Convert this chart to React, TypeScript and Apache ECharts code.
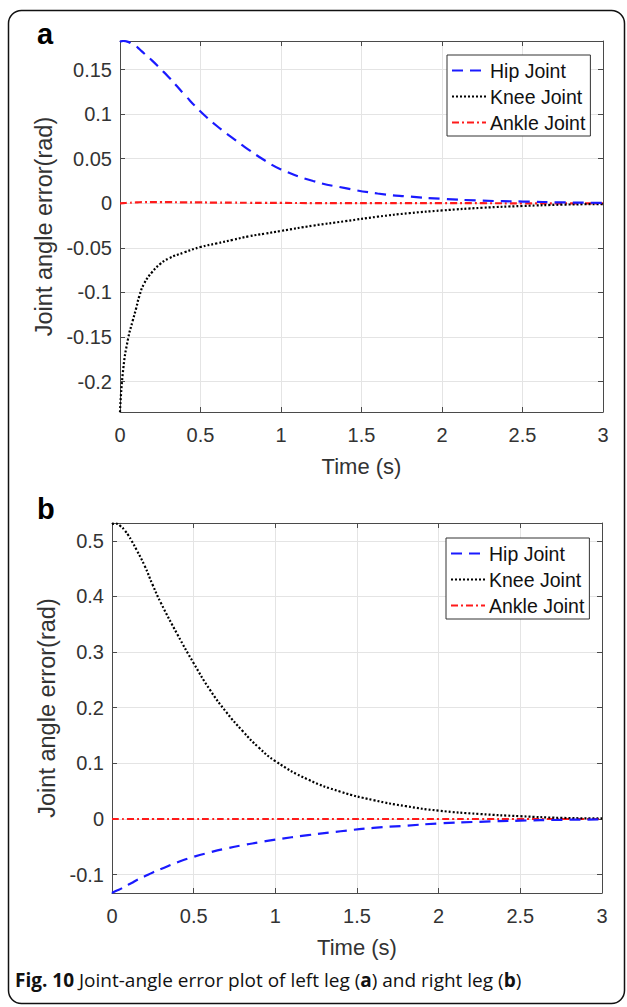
import React, { useEffect, useRef } from "react";
import * as echarts from "echarts";

// ---- data ----
const time = [0, 0.02, 0.05, 0.08, 0.1, 0.12, 0.15, 0.2, 0.25, 0.3, 0.4, 0.5, 0.6, 0.7, 0.8, 0.9, 1.0, 1.2, 1.4, 1.6, 1.8, 2.0, 2.25, 2.5, 2.75, 3.0];

const hipA = [0.181, 0.182, 0.181, 0.178, 0.176, 0.173, 0.168, 0.16, 0.151, 0.142, 0.122, 0.103, 0.087, 0.073, 0.06, 0.048, 0.038, 0.025, 0.017, 0.011, 0.0075, 0.005, 0.003, 0.002, 0.001, 0.0005];
const kneeA = [-0.234, -0.186, -0.152, -0.131, -0.118, -0.104, -0.09, -0.077, -0.068, -0.062, -0.055, -0.049, -0.045, -0.041, -0.037, -0.034, -0.031, -0.025, -0.02, -0.015, -0.011, -0.008, -0.005, -0.003, -0.0015, -0.0008];
const ankleA = [0, 0.0002, 0.0005, 0.0008, 0.001, 0.0012, 0.0013, 0.0014, 0.0014, 0.0013, 0.0011, 0.001, 0.0008, 0.0007, 0.0006, 0.0005, 0.0004, 0.0003, 0.0002, 0.0002, 0.0001, 0.0001, 0.0001, 0, 0, 0];

const hipB = [-0.133, -0.13, -0.126, -0.121, -0.118, -0.115, -0.11, -0.103, -0.096, -0.09, -0.078, -0.068, -0.06, -0.053, -0.047, -0.042, -0.037, -0.029, -0.022, -0.016, -0.012, -0.008, -0.005, -0.003, -0.0015, -0.0008];
const kneeB = [0.53, 0.531, 0.527, 0.518, 0.51, 0.5, 0.484, 0.455, 0.42, 0.388, 0.332, 0.28, 0.232, 0.192, 0.158, 0.128, 0.104, 0.071, 0.049, 0.034, 0.023, 0.015, 0.009, 0.005, 0.002, 0.001];
const ankleB = [0, 0, 0, 0, 0, 0, 0, 0, 0, 0, 0, 0, 0, 0, 0, 0, 0, 0, 0, 0, 0, 0, 0, 0, 0, 0];

const seriesNames = ["Hip Joint", "Knee Joint", "Ankle Joint"];
const yTicksA = [-0.2, -0.15, -0.1, -0.05, 0, 0.05, 0.1, 0.15];
const yTicksB = [-0.1, 0, 0.1, 0.2, 0.3, 0.4, 0.5];
const yRangeA = [-0.234, 0.182];
const yRangeB = [-0.133, 0.532];
const xRange = [0, 3];

const xTitle = "Time (s)";
const yTitle = "Joint angle error(rad)";
const caption = "{b|Fig. 10} Joint-angle error plot of left leg ({b|a}) and right leg ({b|b})";

const FONT = "Liberation Sans";
const TXT = "#333333";
const AXC = "#4a4a4a";
const GRIDC = "#e4e4e4";

const zip = (t: number[], v: number[]) => t.map((x, i) => [x, v[i]]);

function xAxes(grid: number) {
  return [
    {
      type: "value",
      gridIndex: grid,
      position: "bottom",
      min: xRange[0],
      max: xRange[1],
      interval: 0.5,
      name: xTitle,
      nameLocation: "middle",
      nameGap: 43,
      nameTextStyle: { fontFamily: FONT, fontSize: 22, color: TXT },
      axisLine: { show: true, onZero: false, lineStyle: { color: AXC, width: 1 } },
      axisTick: { show: true, inside: true, length: 5, lineStyle: { color: AXC } },
      axisLabel: { fontFamily: FONT, fontSize: 20, color: TXT, margin: 13 },
      splitLine: { show: true, lineStyle: { color: GRIDC, width: 1 } },
    },
    {
      type: "value",
      gridIndex: grid,
      position: "top",
      min: xRange[0],
      max: xRange[1],
      interval: 0.5,
      axisLine: { show: true, onZero: false, lineStyle: { color: AXC, width: 1 } },
      axisTick: { show: true, inside: true, length: 5, lineStyle: { color: AXC } },
      axisLabel: { show: false },
      splitLine: { show: false },
    },
  ];
}

function yAxes(grid: number, range: number[], ticks: number[], gap: number) {
  const fmt = (v: number) => String(parseFloat(Number(v).toFixed(4)));
  return [
    {
      type: "value",
      gridIndex: grid,
      position: "left",
      min: range[0],
      max: range[1],
      name: yTitle,
      nameLocation: "middle",
      nameRotate: 90,
      nameGap: gap,
      nameTextStyle: { fontFamily: FONT, fontSize: 23.5, color: TXT },
      axisLine: { show: true, onZero: false, lineStyle: { color: AXC, width: 1 } },
      axisTick: { show: true, inside: true, length: 5, customValues: ticks, lineStyle: { color: AXC } },
      axisLabel: { fontFamily: FONT, fontSize: 20, color: TXT, margin: 8, customValues: ticks, formatter: fmt },
      splitLine: { show: true, lineStyle: { color: GRIDC, width: 1 } },
    },
    {
      type: "value",
      gridIndex: grid,
      position: "right",
      min: range[0],
      max: range[1],
      axisLine: { show: true, onZero: false, lineStyle: { color: AXC, width: 1 } },
      axisTick: { show: true, inside: true, length: 5, customValues: ticks, lineStyle: { color: AXC } },
      axisLabel: { show: false },
      splitLine: { show: false },
    },
  ];
}

const styles = [
  { color: "#1a1aff", width: 2.2, type: [11, 7] },
  { color: "#000000", width: 2.2, type: [2, 2] },
  { color: "#ff1a1a", width: 2.2, type: [7, 3, 2, 3] },
];

function mkSeries(xi: number, yi: number, vals: number[][]) {
  return vals.map((v, i) => ({
    name: seriesNames[i],
    type: "line",
    xAxisIndex: xi,
    yAxisIndex: yi,
    data: zip(time, v),
    symbol: "none",
    showSymbol: false,
    smooth: true,
    lineStyle: { color: styles[i].color, width: styles[i].width, type: styles[i].type },
    itemStyle: { color: styles[i].color },
    z: 5 - i,
  }));
}

function mkLegend(left: number, top: number) {
  return {
    data: seriesNames,
    orient: "vertical",
    left,
    top,
    padding: [5, 5, 3, 4],
    itemGap: 5,
    itemWidth: 34,
    itemHeight: 14,
    backgroundColor: "#ffffff",
    borderColor: "#333333",
    borderWidth: 1,
    borderRadius: 0,
    selectedMode: false,
    itemStyle: { opacity: 0 },
    textStyle: { fontFamily: FONT, fontSize: 19.5, color: "#111111", lineHeight: 21, padding: [0, 0, 0, -1] },
  };
}

export default function App() {
  const ref = useRef<HTMLDivElement>(null);
  useEffect(() => {
    document.body.style.margin = "0";
    const chart = echarts.init(ref.current as HTMLDivElement, null, { renderer: "svg" });
    chart.setOption({
      animation: false,
      backgroundColor: "#ffffff",
      grid: [
        { left: 120, top: 41, width: 483, height: 371 },
        { left: 112, top: 523, width: 490, height: 370 },
      ],
      xAxis: [...xAxes(0), ...xAxes(1)],
      yAxis: [...yAxes(0, yRangeA, yTicksA, 60), ...yAxes(1, yRangeB, yTicksB, 52)],
      legend: [mkLegend(447, 55), mkLegend(446, 538)],
      series: [
        ...mkSeries(0, 0, [hipA, kneeA, ankleA]),
        ...mkSeries(2, 2, [hipB, kneeB, ankleB]),
      ],
      graphic: [
        {
          type: "rect",
          shape: { x: 8.5, y: 10.5, width: 616, height: 993, r: 13 },
          style: { fill: "none", stroke: "#111", lineWidth: 1.5 },
          z: 0,
          silent: true,
        },
        {
          type: "text",
          left: 37,
          top: 19,
          style: { text: "a", font: `bold 29px ${FONT}`, fill: "#000" },
        },
        {
          type: "text",
          left: 37,
          top: 494,
          style: { text: "b", font: `bold 29px ${FONT}`, fill: "#000" },
        },
        {
          type: "text",
          left: 15,
          top: 970,
          style: {
            text: caption,
            font: "19px 'Open Sans', sans-serif",
            fill: "#111",
            rich: { b: { fontWeight: "bold", fontFamily: "Open Sans", fontSize: 19, fill: "#111" } },
          },
        },
      ],
    });
    return () => chart.dispose();
  }, []);
  return <div ref={ref} style={{ position: "absolute", left: 0, top: 0, width: 627, height: 1007 }} />;
}
